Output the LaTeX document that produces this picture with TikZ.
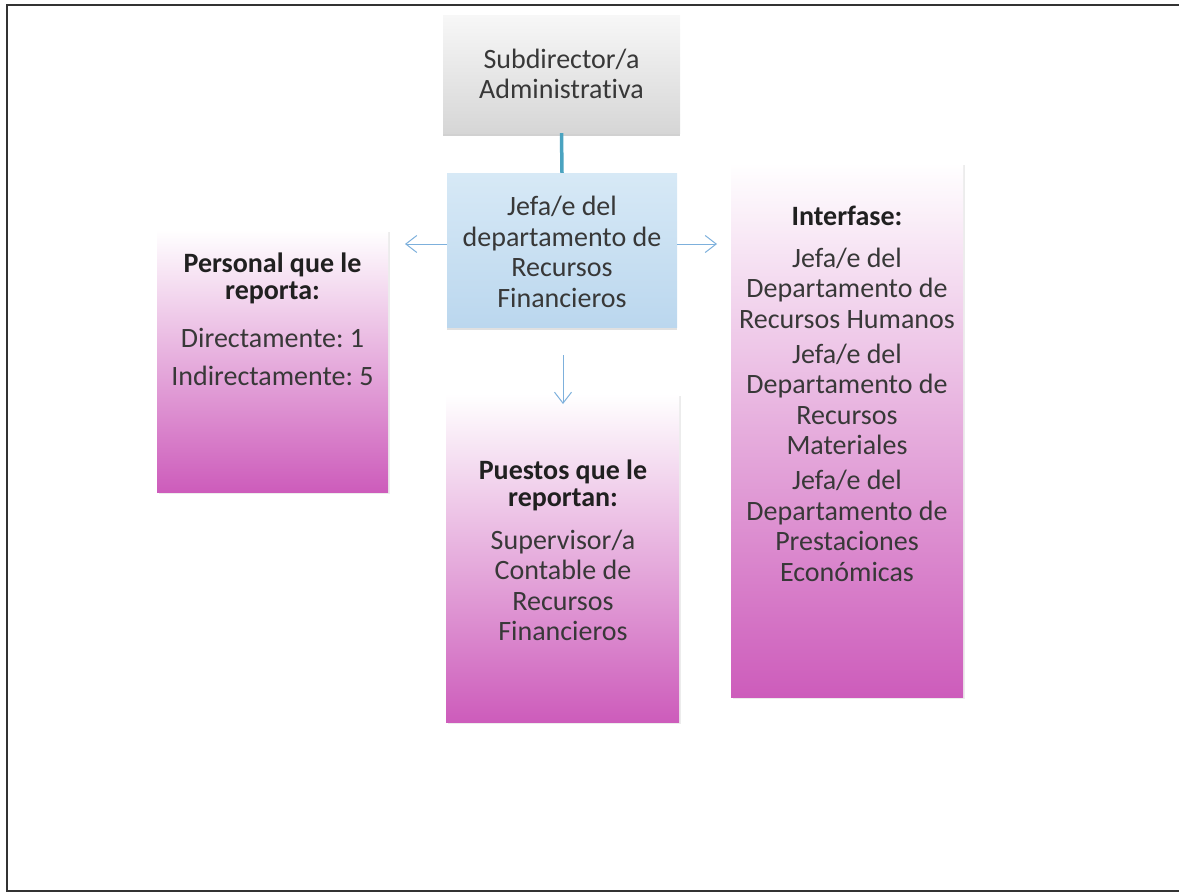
\documentclass[tikz,border=0pt]{standalone}
\usepackage{fontspec}
\setmainfont[Ligatures={NoCommon}]{Carlito}
\frenchspacing
\usetikzlibrary{arrows.meta,shadows}
\definecolor{txt}{HTML}{383838}
\definecolor{ttl}{HTML}{202020}
\definecolor{pinkmid}{HTML}{EBADE0}
\definecolor{pinkbot}{HTML}{CD5CBB}
\definecolor{bluetop}{HTML}{D7E9F6}
\definecolor{bluebot}{HTML}{BBD7EE}
\definecolor{graybot}{HTML}{D6D6D6}
\definecolor{teal}{HTML}{4AA3C0}
\definecolor{arrblue}{HTML}{7DB0DC}
\definecolor{frame}{HTML}{333333}
\tikzset{
  boxbase/.style={rectangle, inner sep=0pt},
  pinkbox/.style={boxbase, top color=white, middle color=pinkmid, bottom color=pinkbot,
     drop shadow={shadow xshift=2pt, shadow yshift=-2pt, opacity=0.12, fill=black!60}},
  graybox/.style={boxbase, top color=white!97!black, bottom color=graybot,
     drop shadow={shadow xshift=0pt, shadow yshift=-3pt, opacity=0.3, fill=black!60}},
  bluebox/.style={boxbase, top color=bluetop, bottom color=bluebot,
     drop shadow={shadow xshift=0pt, shadow yshift=-3pt, opacity=0.2, fill=black!60}},
  lbl/.style={align=center, text=txt, font=\fontsize{28}{30.5}\selectfont},
  arrowline/.style={draw=arrblue, line width=1pt, -{Straight Barb[length=11pt, width=17pt, line width=1pt]}},
  linkline/.style={draw=teal, line width=3.5pt},
  frameline/.style={draw=frame, line width=2pt}
}
\newcommand{\ttlb}[1]{\textcolor{ttl}{\bfseries #1}}
\begin{document}
\begin{tikzpicture}[x=1pt,y=-1pt]
\useasboundingbox (0,0) rectangle (1179,894);
% frame
\coordinate (ftr) at (1179,5);
\coordinate (ftl) at (7,5);
\coordinate (fbl) at (7,891);
\coordinate (fbr) at (1179,891);
\draw[frameline] (ftr) -- (ftl) -- (fbl) -- (fbr);

% boxes
\node[graybox, minimum width=237pt, minimum height=118pt] (sub) at (561.5,74) {};
\node[bluebox, minimum width=230pt, minimum height=154pt] (jef) at (562,250) {};
\node[pinkbox, minimum width=231pt, minimum height=262pt] (per) at (272.5,361) {};
\node[pinkbox, minimum width=233pt, minimum height=328pt] (pue) at (562.5,558) {};
\node[pinkbox, minimum width=232pt, minimum height=534pt] (int) at (847,430) {};

% texts
\node[lbl] (subT) at (sub.center) {Subdirector/a\\Administrativa};
\node[lbl] (jefT) at (562,252) {Jefa/e del\\departamento de\\Recursos\\Financieros};
\node[lbl] (perT) at (272.5,319) {\ttlb{Personal que le}\\[-3.5pt]\ttlb{reporta:}\\[17.5pt]Directamente: 1\\[7.5pt]Indirectamente: 5};
\node[lbl] (pueT) at (563,550.5) {\ttlb{Puestos que le}\\[-3.5pt]\ttlb{reportan:}\\[12.5pt]Supervisor/a\\Contable de\\Recursos\\Financieros};
\node[lbl] (intT) at (847,393.5) {\ttlb{Interfase:}\\[11.5pt]Jefa/e del\\Departamento de\\Recursos Humanos\\[4.5pt]Jefa/e del\\Departamento de\\Recursos\\Materiales\\[4.5pt]Jefa/e del\\Departamento de\\Prestaciones\\Económicas};

% connectors
\draw[linkline] (sub.south) -- (jef.north);
\coordinate (la) at (405,244);
\coordinate (ra) at (717,244);
\coordinate (da) at (563,404);
\draw[arrowline] (jef.west |- la) -- (la);
\draw[arrowline] (jef.east |- ra) -- (ra);
\draw[arrowline] (jef.south -| da) ++(0,28) -- (da);
\end{tikzpicture}
\end{document}
